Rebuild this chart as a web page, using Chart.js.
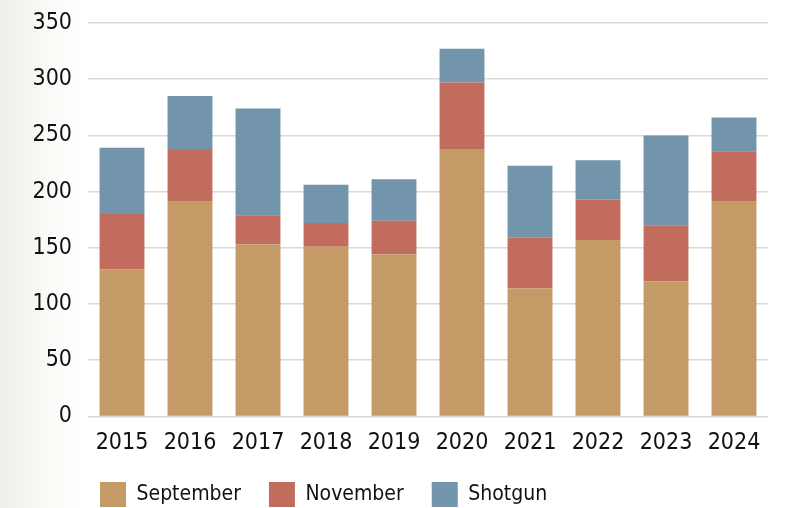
<!DOCTYPE html>
<html>
<head>
<meta charset="utf-8">
<script src="https://cdn.jsdelivr.net/npm/chart.js@4/dist/chart.umd.min.js"></script>
<style>
  html, body { margin: 0; padding: 0; }
  body { width: 788px; height: 508px; overflow: hidden;
    background: linear-gradient(to right, #efeee9 0px, #f5f4f0 25px, #fbfbf9 55px, #ffffff 80px); }
  #wrap { width: 788px; height: 508px; position: relative; }
</style>
</head>
<body>
<div id="wrap"><canvas id="c" width="788" height="508"></canvas></div>
<script>
const years = ['2015','2016','2017','2018','2019','2020','2021','2022','2023','2024'];
const september = [131, 191, 153, 151, 144, 238, 114, 157, 120, 191];
const november  = [49, 47, 26, 21, 30, 59, 45, 36, 50, 45];
const shotgun   = [59, 47, 95, 34, 37, 30, 64, 35, 80, 30];
const yTicks = [0, 50, 100, 150, 200, 250, 300, 350];

const FONT = "'DejaVu Sans Condensed', 'Liberation Sans Narrow', 'Liberation Sans', sans-serif";

const legendShift = {
  id: 'legendShift',
  afterLayout(chart) {
    const lg = chart.legend;
    if (lg) { lg.left -= 16; lg.right -= 16; lg.top -= 16; lg.bottom -= 16; }
  }
};

new Chart(document.getElementById('c'), {
  type: 'bar',
  data: {
    labels: years,
    datasets: [
      { label: 'September', data: september, backgroundColor: '#c49a66' },
      { label: 'November', data: november, backgroundColor: '#c26c5e' },
      { label: 'Shotgun', data: shotgun, backgroundColor: '#7295ab' }
    ]
  },
  plugins: [legendShift],
  options: {
    responsive: false,
    animation: false,
    layout: { padding: { left: 0, right: 20, top: 23, bottom: -25 } },
    datasets: { bar: { categoryPercentage: 1.0, barPercentage: 0.66 } },
    scales: {
      x: {
        stacked: true,
        grid: { display: false, drawTicks: false },
        border: { display: false },
        ticks: { color: '#111', font: { family: FONT, size: 23 }, padding: 13 }
      },
      y: {
        stacked: true,
        min: 0, max: yTicks[yTicks.length - 1],
        afterBuildTicks: (scale) => { scale.ticks = yTicks.map(v => ({ value: v })); },
        afterFit: (scale) => { scale.width = 88; scale.paddingTop = 0; },
        grid: { color: '#d9d9d9', lineWidth: 1.5, drawTicks: false },
        border: { display: false },
        ticks: { color: '#111', font: { family: FONT, size: 23 }, padding: 16 }
      }
    },
    plugins: {
      tooltip: { enabled: false },
      legend: {
        position: 'bottom',
        align: 'start',
        fullSize: false,
        labels: {
          color: '#111',
          font: { family: FONT, size: 21 },
          boxWidth: 26, boxHeight: 25,
          padding: 28
        }
      }
    }
  }
});
</script>
</body>
</html>
